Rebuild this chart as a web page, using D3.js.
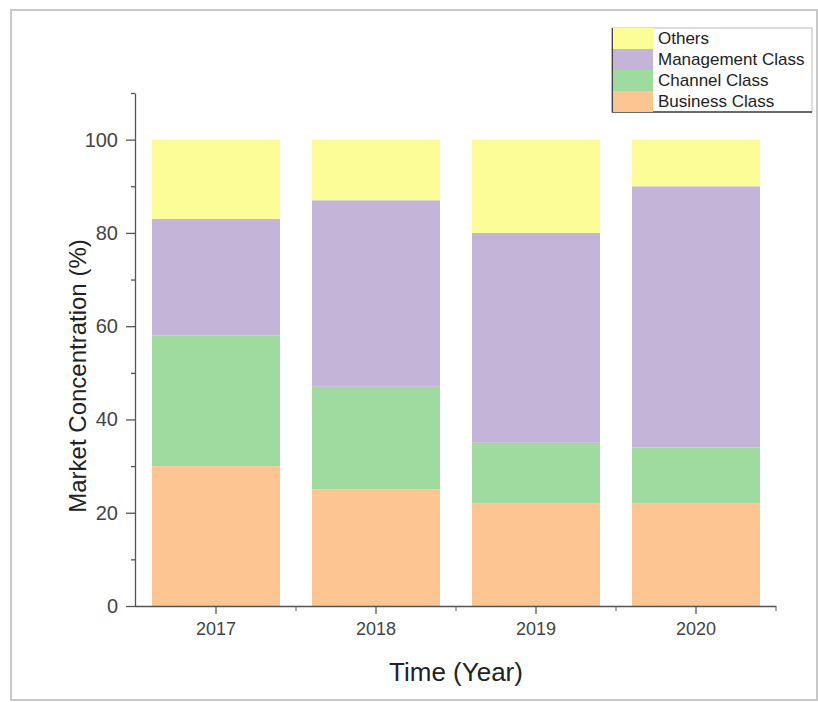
<!DOCTYPE html>
<html>
<head>
<meta charset="utf-8">
<title>Market Concentration</title>
<script src="https://cdn.jsdelivr.net/npm/d3@7"></script>
<style>
body { margin: 0; background: #fff; }
text { font-family: "Liberation Sans", Arial, sans-serif; }
</style>
</head>
<body>
<svg id="chart" width="818" height="702"></svg>
<script>
// data
var years = ["2017", "2018", "2019", "2020"];
var business = [30, 25, 22, 22];
var channel = [28, 22, 13, 12];
var management = [25, 40, 45, 56];
var others = [17, 13, 20, 10];
var seriesNames = ["Business Class", "Channel Class", "Management Class", "Others"];
var seriesColors = ["#fdc592", "#9fdb9f", "#c4b4d8", "#fdfd98"];
var yTicks = [0, 20, 40, 60, 80, 100];

var rows = years.map(function(y, i) {
  return {year: y, "Business Class": business[i], "Channel Class": channel[i],
          "Management Class": management[i], "Others": others[i]};
});

var svg = d3.select("#chart");

// outer frame
svg.append("rect").attr("x", 11).attr("y", 10).attr("width", 806).attr("height", 690)
  .attr("fill", "none").attr("stroke", "#c8c8c8").attr("stroke-width", 2);

var x = d3.scaleBand().domain(years).range([136, 776]).paddingInner(0.2).paddingOuter(0.1);
var y = d3.scaleLinear().domain([0, 110]).range([606, 93]);
var color = d3.scaleOrdinal().domain(seriesNames).range(seriesColors);

var stack = d3.stack().keys(seriesNames)(rows);

svg.append("g").selectAll("g").data(stack).enter().append("g")
  .attr("fill", function(d) { return color(d.key); })
  .selectAll("rect").data(function(d) { return d; }).enter().append("rect")
  .attr("x", function(d) { return x(d.data.year); })
  .attr("width", x.bandwidth())
  .attr("y", function(d) { return y(d[1]); })
  .attr("height", function(d) { return y(d[0]) - y(d[1]); });

// y axis
var yAxis = svg.append("g").attr("transform", "translate(135,0)")
  .call(d3.axisLeft(y).tickValues(yTicks).tickSize(9).tickPadding(8).tickSizeOuter(0));
svg.append("g").attr("transform", "translate(135,0)")
  .call(d3.axisLeft(y).tickValues([10, 30, 50, 70, 90, 110]).tickSize(4).tickFormat("").tickSizeOuter(0))
  .select(".domain").remove();

// x axis
var xAxis = svg.append("g").attr("transform", "translate(0,606)")
  .call(d3.axisBottom(x).tickSize(8).tickPadding(8).tickSizeOuter(0));
xAxis.select(".domain").attr("d", "M135,0.5H776");
var half = x.step() / 2;
xAxis.selectAll(".minor").data(years).enter().append("line").attr("class", "minor")
  .attr("x1", function(d) { return x(d) + x.bandwidth() / 2 + half; })
  .attr("x2", function(d) { return x(d) + x.bandwidth() / 2 + half; })
  .attr("y1", 0).attr("y2", 5).attr("stroke", "#555");

svg.selectAll(".domain, .tick line").attr("stroke", "#555").attr("stroke-width", 1.3);
yAxis.selectAll(".tick text").attr("font-size", 20).attr("fill", "#444");
xAxis.selectAll(".tick text").attr("font-size", 18).attr("fill", "#444");

svg.append("text").attr("transform", "translate(86,376) rotate(-90)")
  .attr("text-anchor", "middle").attr("font-size", 24).attr("fill", "#222")
  .text("Market Concentration (%)");
svg.append("text").attr("x", 456).attr("y", 681)
  .attr("text-anchor", "middle").attr("font-size", 26).attr("fill", "#222")
  .text("Time (Year)");

// legend (reverse order, Others on top)
var legend = svg.append("g").attr("transform", "translate(612,28)");
legend.append("rect").attr("width", 200).attr("height", 84)
  .attr("fill", "#fff").attr("stroke", "#bbb");
legend.append("path").attr("d", "M0.5,0V84H200")
  .attr("fill", "none").attr("stroke", "#444").attr("stroke-width", 1.5);
var items = legend.selectAll(".item").data(seriesNames.slice().reverse()).enter().append("g")
  .attr("transform", function(d, i) { return "translate(1," + (i * 21) + ")"; });
items.append("rect").attr("width", 40).attr("height", 21).attr("fill", function(d) { return color(d); });
items.append("text").attr("x", 45).attr("y", 16).attr("font-size", 17).attr("fill", "#222")
  .text(function(d) { return d; });
</script>
</body>
</html>
